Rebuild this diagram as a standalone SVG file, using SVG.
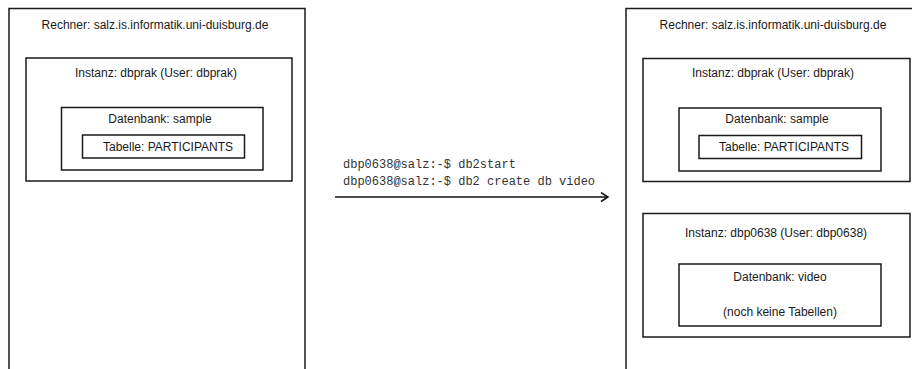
<svg xmlns="http://www.w3.org/2000/svg" width="912" height="369" viewBox="0 0 912 369">
<defs>
<style>
.box{fill:none;stroke:#1a1a1a;stroke-width:1.5}
.t{font-family:"Liberation Sans",Arial,sans-serif;font-size:12px;fill:#1a1a1a;text-anchor:middle}
.m{font-family:"Liberation Mono","Courier New",monospace;font-size:12px;fill:#333}
.conn{fill:none;stroke:#111;stroke-width:1.5}
</style>
<marker id="arr" markerWidth="12" markerHeight="12" refX="9" refY="5" orient="auto" markerUnits="userSpaceOnUse">
<path d="M2,0.5 L9,5 L2,9.5" fill="none" stroke="#111" stroke-width="1.5"/>
</marker>
</defs>
<rect width="912" height="369" fill="#fff"/>
<g id="rechner-left">
<rect class="box" x="9" y="8.5" width="296" height="380"/>
<text class="t" x="155" y="29">Rechner: salz.is.informatik.uni-duisburg.de</text>
</g>
<g id="instanz-left">
<rect class="box" x="26" y="58" width="266" height="123"/>
<text class="t" x="156" y="77">Instanz: dbprak (User: dbprak)</text>
</g>
<g id="db-left">
<rect class="box" x="61.5" y="107.5" width="201.5" height="62.5"/>
<text class="t" x="160" y="123">Datenbank: sample</text>
</g>
<g id="tab-left">
<rect class="box" x="82.5" y="135" width="162" height="23"/>
<text class="t" x="168" y="151">Tabelle: PARTICIPANTS</text>
</g>
<g id="rechner-right">
<rect class="box" x="626" y="8.5" width="296" height="380"/>
<text class="t" x="773" y="29">Rechner: salz.is.informatik.uni-duisburg.de</text>
</g>
<g id="instanz-right">
<rect class="box" x="643" y="58.5" width="267" height="123"/>
<text class="t" x="773" y="77">Instanz: dbprak (User: dbprak)</text>
</g>
<g id="db-right">
<rect class="box" x="679" y="108" width="202" height="63"/>
<text class="t" x="777" y="123">Datenbank: sample</text>
</g>
<g id="tab-right">
<rect class="box" x="699" y="135.5" width="162.5" height="23"/>
<text class="t" x="784" y="151">Tabelle: PARTICIPANTS</text>
</g>
<g id="instanz-new">
<rect class="box" x="643" y="213.5" width="267" height="123.5"/>
<text class="t" x="776" y="237">Instanz: dbp0638 (User: dbp0638)</text>
</g>
<g id="db-new">
<rect class="box" x="679" y="264" width="202" height="62"/>
<text class="t" x="780" y="281">Datenbank: video</text>
<text class="t" x="780" y="316">(noch keine Tabellen)</text>
</g>
<g id="connectors">
<line class="conn" x1="335" y1="197" x2="608" y2="197" marker-end="url(#arr)"/>
<text class="m" x="343" y="168">dbp0638@salz:-$ db2start</text>
<text class="m" x="343" y="185">dbp0638@salz:-$ db2 create db video</text>
</g>
</svg>
